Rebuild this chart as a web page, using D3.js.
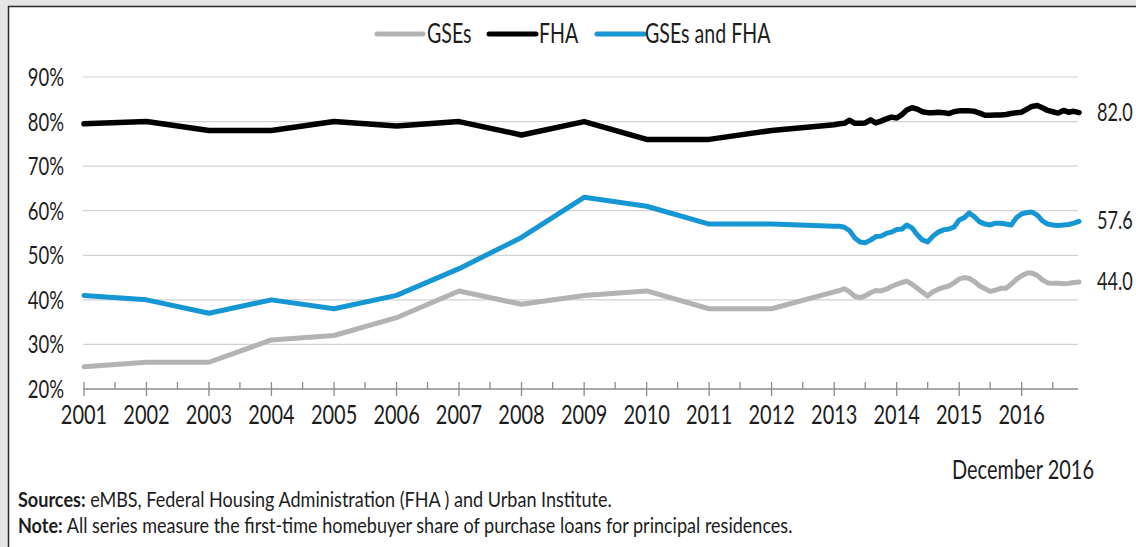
<!DOCTYPE html>
<html>
<head>
<meta charset="utf-8">
<script src="https://cdn.jsdelivr.net/npm/d3@7"></script>
<style>
  html, body { margin: 0; padding: 0; background: #e8e8e8; }
  svg { display: block; }
  text { font-family: Lato, "Open Sans", sans-serif; fill: #1d1d1d; }
</style>
</head>
<body>
<svg id="chart" width="1136" height="547"></svg>
<script>
// Annual observations, 2001-2012
const years = [2001, 2002, 2003, 2004, 2005, 2006, 2007, 2008, 2009, 2010, 2011, 2012];
const gseAnnual  = [25, 26, 26, 31, 32, 36, 42, 39, 41, 42, 38, 38];
const fhaAnnual  = [79.5, 80, 78, 78, 80, 79, 80, 77, 80, 76, 76, 78];
const bothAnnual = [41, 40, 37, 40, 38, 41, 47, 54, 63, 61, 57, 57];

// Monthly observations, January 2013 - December 2016
const monthlyStart = [2013, 0];
const gseMonthly = [
  41.8, 42.1, 42.5, 41.8, 40.8, 40.5, 40.9, 41.6, 42.1, 42.0, 42.4, 43.0,
  43.5, 43.9, 44.2, 43.5, 42.6, 41.7, 40.9, 41.8, 42.4, 42.8, 43.1, 43.8,
  44.7, 45.0, 44.8, 44.1, 43.1, 42.5, 41.9, 42.2, 42.6, 42.6, 43.5, 44.6,
  45.4, 46.0, 46.0, 45.5, 44.5, 43.8, 43.7, 43.7, 43.6, 43.7, 43.9, 44.0
];
const fhaMonthly = [
  79.3, 79.5, 79.6, 80.3, 79.6, 79.6, 79.7, 80.4, 79.7, 80.1, 80.6, 81.0,
  80.8, 81.6, 82.6, 83.1, 82.8, 82.2, 82.0, 82.0, 82.1, 82.0, 81.8, 82.2,
  82.4, 82.4, 82.4, 82.3, 81.9, 81.4, 81.4, 81.5, 81.5, 81.6, 81.8, 82.0,
  82.1, 82.8, 83.4, 83.6, 83.1, 82.5, 82.2, 81.9, 82.5, 82.1, 82.3, 82.0
];
const bothMonthly = [
  56.5, 56.5, 56.3, 55.5, 53.9, 53.0, 52.8, 53.4, 54.2, 54.3, 54.9, 55.2,
  55.8, 55.9, 56.8, 56.1, 54.6, 53.4, 53.0, 54.3, 55.2, 55.7, 55.9, 56.3,
  57.9, 58.5, 59.5, 58.6, 57.5, 57.0, 56.8, 57.2, 57.2, 57.0, 56.8, 58.4,
  59.3, 59.6, 59.7, 59.0, 57.7, 57.0, 56.8, 56.7, 56.8, 56.9, 57.2, 57.6
];

const seriesNames = ["GSEs", "FHA", "GSEs and FHA"];
const yTicks = [20, 30, 40, 50, 60, 70, 80, 90];
const xTickYears = d3.range(2001, 2017);
const dateNote = "December 2016";
const sourcesLabel = "Sources:";
const sourcesText = " eMBS, Federal Housing Administration (FHA ) and Urban Institute.";
const noteLabel = "Note:";
const noteText = " All series measure the first-time homebuyer share of purchase loans for principal residences.";

const colors = { "GSEs": "#b3b3b3", "FHA": "#000000", "GSEs and FHA": "#1696d2" };

// Build the date-indexed series
function buildSeries(annual, monthly) {
  const pts = years.map((yr, i) => ({ date: new Date(yr, 0, 1), value: annual[i] }));
  monthly.forEach((v, i) => pts.push({ date: new Date(monthlyStart[0], monthlyStart[1] + i, 1), value: v }));
  return pts;
}
const series = [
  { name: "GSEs", values: buildSeries(gseAnnual, gseMonthly) },
  { name: "FHA", values: buildSeries(fhaAnnual, fhaMonthly) },
  { name: "GSEs and FHA", values: buildSeries(bothAnnual, bothMonthly) }
];

const svg = d3.select("#chart");
const W = 1136, H = 547;

// Panel frame
svg.append("rect").attr("x", 0).attr("y", 0).attr("width", W).attr("height", H).attr("fill", "#e6e6e6");
svg.append("rect").attr("x", 8).attr("y", 6).attr("width", W - 8).attr("height", H - 6).attr("fill", "#ffffff");
svg.append("line").attr("x1", 8).attr("x2", W).attr("y1", 6.5).attr("y2", 6.5).attr("stroke", "#2a2a2a").attr("stroke-width", 1.5);
svg.append("line").attr("x1", 8.5).attr("x2", 8.5).attr("y1", 6).attr("y2", H).attr("stroke", "#2a2a2a").attr("stroke-width", 1.5);

const SX = 0.74; // narrow lettering

function label(x, y, str, size, anchor, weight, sx) {
  return svg.append("text")
    .attr("transform", `translate(${x},${y}) scale(${sx || SX},1)`)
    .attr("font-size", size)
    .attr("text-anchor", anchor || "start")
    .attr("font-weight", weight || "normal")
    .text(str);
}

const x = d3.scaleTime()
  .domain([new Date(2001, 0, 1), new Date(2016, 11, 1)])
  .range([84, 1079]);
const y = d3.scaleLinear().domain([20, 90]).range([389, 77]);

// Gridlines
svg.append("g").selectAll("line")
  .data(yTicks.filter(t => t > 20))
  .join("line")
  .attr("x1", 83).attr("x2", 1078)
  .attr("y1", d => y(d)).attr("y2", d => y(d))
  .attr("stroke", "#d2d2d2").attr("stroke-width", 1.2);

// Y labels
yTicks.forEach(t => label(64, y(t) + 9, t + "%", 25, "end"));

// X axis baseline and ticks
svg.append("line").attr("x1", 83).attr("x2", 1078)
  .attr("y1", y(20)).attr("y2", y(20)).attr("stroke", "#8c8c8c").attr("stroke-width", 1.5);
const major = xTickYears.map(yr => new Date(yr, 0, 1));
const minor = xTickYears.map(yr => new Date(yr, 6, 1));
svg.append("g").selectAll("line").data(major).join("line")
  .attr("x1", d => x(d)).attr("x2", d => x(d))
  .attr("y1", y(20) - 7).attr("y2", y(20) + 7)
  .attr("stroke", "#8c8c8c").attr("stroke-width", 1.3);
svg.append("g").selectAll("line").data(minor).join("line")
  .attr("x1", d => x(d)).attr("x2", d => x(d))
  .attr("y1", y(20) - 7).attr("y2", y(20))
  .attr("stroke", "#8c8c8c").attr("stroke-width", 1.3);
xTickYears.forEach(yr => label(x(new Date(yr, 0, 1)), 424, String(yr), 27, "middle"));

// Series lines
const line = d3.line().x(d => x(d.date)).y(d => y(d.value));
series.forEach(s => {
  svg.append("path")
    .datum(s.values)
    .attr("d", line)
    .attr("fill", "none")
    .attr("stroke", colors[s.name])
    .attr("stroke-width", s.name === "FHA" ? 5.5 : 5)
    .attr("stroke-linejoin", "round")
    .attr("stroke-linecap", "round");
  const last = s.values[s.values.length - 1];
  label(1097, y(last.value) + 8, d3.format(".1f")(last.value), 24.5, "start");
});

// Legend
const legendItems = [
  { name: "GSEs", x1: 377, x2: 423, tx: 427 },
  { name: "FHA", x1: 489, x2: 536, tx: 539 },
  { name: "GSEs and FHA", x1: 597, x2: 644, tx: 645 }
];
legendItems.forEach(it => {
  svg.append("line").attr("x1", it.x1).attr("x2", it.x2).attr("y1", 34).attr("y2", 34)
    .attr("stroke", colors[it.name]).attr("stroke-width", 5).attr("stroke-linecap", "round");
  label(it.tx, 43, it.name, 26.5, "start");
});

// Date note
label(1094, 479, dateNote, 27, "end");

// Footer
const FX = 0.88;
const src = svg.append("text")
  .attr("transform", `translate(18,507) scale(${FX},1)`)
  .attr("font-size", 20.5);
src.append("tspan").attr("font-weight", "bold").text(sourcesLabel);
src.append("tspan").text(sourcesText);
const note = svg.append("text")
  .attr("transform", `translate(18,533) scale(${FX},1)`)
  .attr("font-size", 20.5);
note.append("tspan").attr("font-weight", "bold").text(noteLabel);
note.append("tspan").text(noteText);
</script>
</body>
</html>
